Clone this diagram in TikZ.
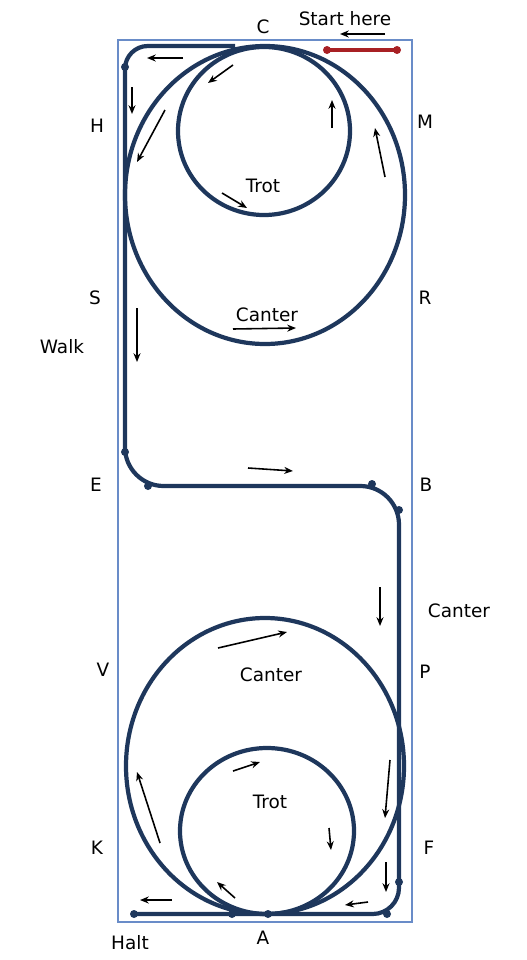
\documentclass[tikz,border=0pt]{standalone}
\usepackage{fontspec}
\setmainfont{DejaVu Sans}
\usetikzlibrary{arrows.meta}
\definecolor{navy}{RGB}{30,55,92}
\definecolor{arenablue}{RGB}{105,140,200}
\definecolor{startred}{RGB}{168,32,36}
\tikzset{
  arena/.style={draw=arenablue,line width=1.1pt},
  track/.style={draw=navy,line width=2.4pt},
  dot/.style={fill=navy},
  arr/.style={-{Stealth[length=5pt,width=4pt]},line width=0.9pt,black},
  lbl/.style={font=\fontsize{10.5}{12}\selectfont}
}
\begin{document}
\begin{tikzpicture}[x=0.02cm,y=-0.02cm]
  \useasboundingbox (0,0) rectangle (527,960);
  % arena
  \draw[arena] (118,40) rectangle (412,922);
  % circles
  \draw[track] (265,195) ellipse [x radius=140, y radius=149];
  \draw[track] (264,131) ellipse [x radius=86, y radius=84];
  \draw[track] (265,766) ellipse [x radius=139, y radius=148];
  \draw[track] (267,831) ellipse [x radius=87, y radius=83];
  % walk / canter track
  \coordinate (c1) at (235,46);
  \coordinate (c2) at (125,46);
  \coordinate (c3) at (125,486);
  \coordinate (c4) at (399,486);
  \coordinate (c5) at (399,914);
  \coordinate (halt) at (134,914);
  \draw[track,rounded corners=13] (c1) -- (c2) [rounded corners=22] -- (c3)
    -- (c4) [rounded corners=15] -- (c5) -- (halt);
  \foreach \x/\y in {125/67, 125/452, 148/486, 372/484, 399/510, 399/882,
                     387/914, 232/914, 268/914, 134/914}
    \fill[dot] (\x,\y) circle (4);
  % start
  \coordinate (s1) at (327,50);
  \coordinate (s2) at (397,50);
  \draw[startred,line width=2.2pt] (s1) -- (s2);
  \fill[startred] (s1) circle (4) (s2) circle (4);
  % direction arrows
  \foreach \xa/\ya/\xb/\yb in {
    385/34/340/34, 183/58/147/58, 233/65/208/83, 132/87/132/114,
    165/110/137/162, 332/128/332/100, 385/177/375/128, 222/193/247/208,
    233/329/296/328, 137/308/137/362, 248/468/293/471, 380/587/380/626,
    218/648/287/632, 233/771/260/762, 390/760/385/818, 160/843/137/772,
    329/828/331/850, 386/862/386/892, 368/902/345/905, 235/898/217/882,
    172/900/140/900}
    \draw[arr] (\xa,\ya) -- (\xb,\yb);
  % letters and labels
  \foreach \x/\y/\txt in {
    263/27/C, 345/19/Start here, 97/126/H, 425/122/M, 263/186/Trot,
    95/298/S, 425/298/R, 267/315/Canter, 62/347/Walk, 96/485/E,
    426/485/B, 459/611/Canter, 103/670/V, 425/672/P, 271/675/Canter,
    270/802/Trot, 97/848/K, 429/848/F, 130/943/Halt, 263/938/A}
    \node[lbl] at (\x,\y) {\txt};
\end{tikzpicture}
\end{document}
